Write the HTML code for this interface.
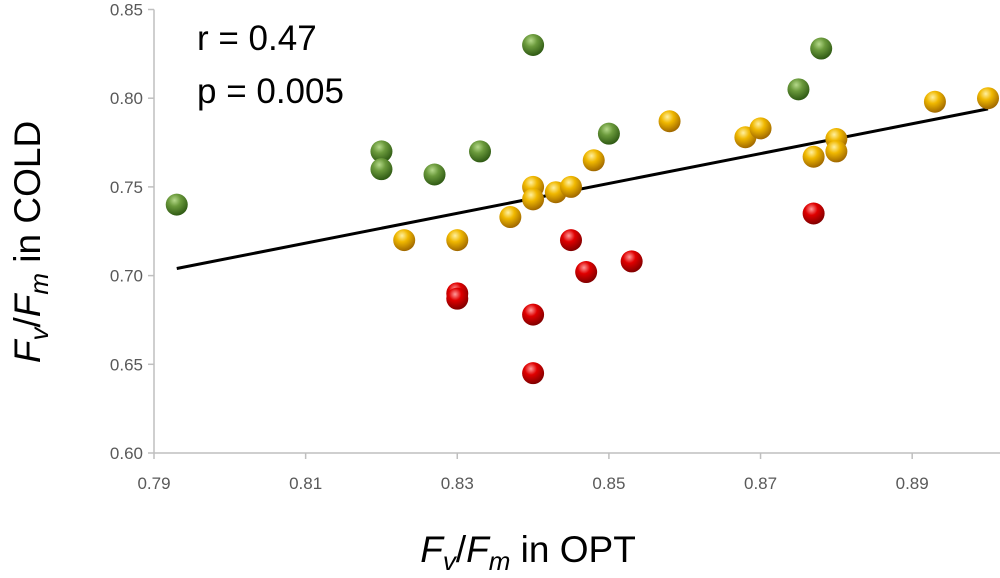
<!DOCTYPE html>
<html><head><meta charset="utf-8"><style>
body{margin:0;background:#fff;}
svg{display:block;font-family:"Liberation Sans",sans-serif;}
</style></head><body>
<svg id="c" width="1000" height="578" viewBox="0 0 1000 578">
<defs>
<radialGradient id="gG" cx="40%" cy="30%" r="70%"><stop offset="0" stop-color="#b5d98a"/><stop offset="0.4" stop-color="#6b9a3c"/><stop offset="1" stop-color="#2f5a14"/></radialGradient>
<radialGradient id="gY" cx="40%" cy="30%" r="70%"><stop offset="0" stop-color="#fff0a0"/><stop offset="0.4" stop-color="#f0b800"/><stop offset="1" stop-color="#a06800"/></radialGradient>
<radialGradient id="gR" cx="40%" cy="30%" r="70%"><stop offset="0" stop-color="#ff9a9a"/><stop offset="0.4" stop-color="#e00000"/><stop offset="1" stop-color="#800000"/></radialGradient>
</defs>
</svg>
<script>
const xTicks=[0.79,0.81,0.83,0.85,0.87,0.89];
const yTicks=[0.60,0.65,0.70,0.75,0.80,0.85];
const greenX=[0.793,0.82,0.82,0.827,0.833,0.84,0.85,0.875,0.878];
const greenY=[0.74,0.77,0.76,0.757,0.77,0.83,0.78,0.805,0.828];
const yellowX=[0.823,0.83,0.837,0.84,0.84,0.843,0.845,0.848,0.858,0.868,0.87,0.877,0.88,0.88,0.893,0.90];
const yellowY=[0.72,0.72,0.733,0.75,0.743,0.747,0.75,0.765,0.787,0.778,0.783,0.767,0.777,0.77,0.798,0.80];
const redX=[0.83,0.83,0.84,0.84,0.845,0.847,0.853,0.877];
const redY=[0.69,0.687,0.678,0.645,0.72,0.702,0.708,0.735];
const trendX=[0.793,0.90];
const trendY=[0.704,0.794];
const NS='http://www.w3.org/2000/svg';
const svg=document.getElementById('c');
const X0=154,X1=988,Y0=453,Y1=9.5;
const sx=v=>X0+(v-0.79)/(0.90-0.79)*(X1-X0);
const sy=v=>Y0-(v-0.60)/(0.85-0.60)*(Y0-Y1);
function mk(t,a,txt){const e=document.createElementNS(NS,t);for(const k in a)e.setAttribute(k,a[k]);if(txt!==undefined)e.textContent=txt;svg.appendChild(e);return e;}
let e;
e=mk('line',{x1:X0,y1:Y1,x2:X0,y2:Y0,stroke:'#bfbfbf','stroke-width':1.5});


e=mk('line',{x1:X0,y1:Y0,x2:1000,y2:Y0,stroke:'#bfbfbf','stroke-width':1.5});


yTicks.forEach(v=>{
 mk('line',{x1:X0-6,y1:sy(v),x2:X0,y2:sy(v),stroke:'#bfbfbf','stroke-width':1.5});
 e=mk('text',{x:X0-11,y:sy(v)+6,'text-anchor':'end','font-size':17,fill:'#595959'},v.toFixed(2));
 
 
});
xTicks.forEach(v=>{
 mk('line',{x1:sx(v),y1:Y0,x2:sx(v),y2:Y0+6,stroke:'#bfbfbf','stroke-width':1.5});
 e=mk('text',{x:sx(v),y:489,'text-anchor':'middle','font-size':17,fill:'#595959'},v.toFixed(2));
 
 
});
e=mk('line',{x1:sx(trendX[0]),y1:sy(trendY[0]),x2:sx(trendX[1]),y2:sy(trendY[1]),stroke:'#000','stroke-width':3});


function pts(xs,ys,g,name){xs.forEach((x,i)=>{
 e=mk('circle',{cx:sx(x),cy:sy(ys[i]),r:11,fill:'url(#'+g+')'});
 
 
});}
pts(greenX,greenY,'gG','green-point');
pts(yellowX,yellowY,'gY','yellow-point');
pts(redX,redY,'gR','red-point');
e=mk('text',{x:197,y:50,'font-size':35,fill:'#000'},'r = 0.47');


e=mk('text',{x:197,y:103,'font-size':35,fill:'#000'},'p = 0.005');


e=mk('text',{x:528,y:562,'text-anchor':'middle','font-size':37,fill:'#000'});
e.innerHTML='<tspan font-style="italic">F</tspan><tspan font-style="italic" font-size="26" dy="8">v</tspan><tspan dy="-8">/</tspan><tspan font-style="italic">F</tspan><tspan font-style="italic" font-size="26" dy="8">m</tspan><tspan dy="-8"> in OPT</tspan>';


e=mk('text',{x:0,y:0,'text-anchor':'middle','font-size':37,fill:'#000',transform:'translate(40,242) rotate(-90)'});
e.innerHTML='<tspan font-style="italic">F</tspan><tspan font-style="italic" font-size="26" dy="8">v</tspan><tspan dy="-8">/</tspan><tspan font-style="italic">F</tspan><tspan font-style="italic" font-size="26" dy="8">m</tspan><tspan dy="-8"> in COLD</tspan>';


</script>
</body></html>
